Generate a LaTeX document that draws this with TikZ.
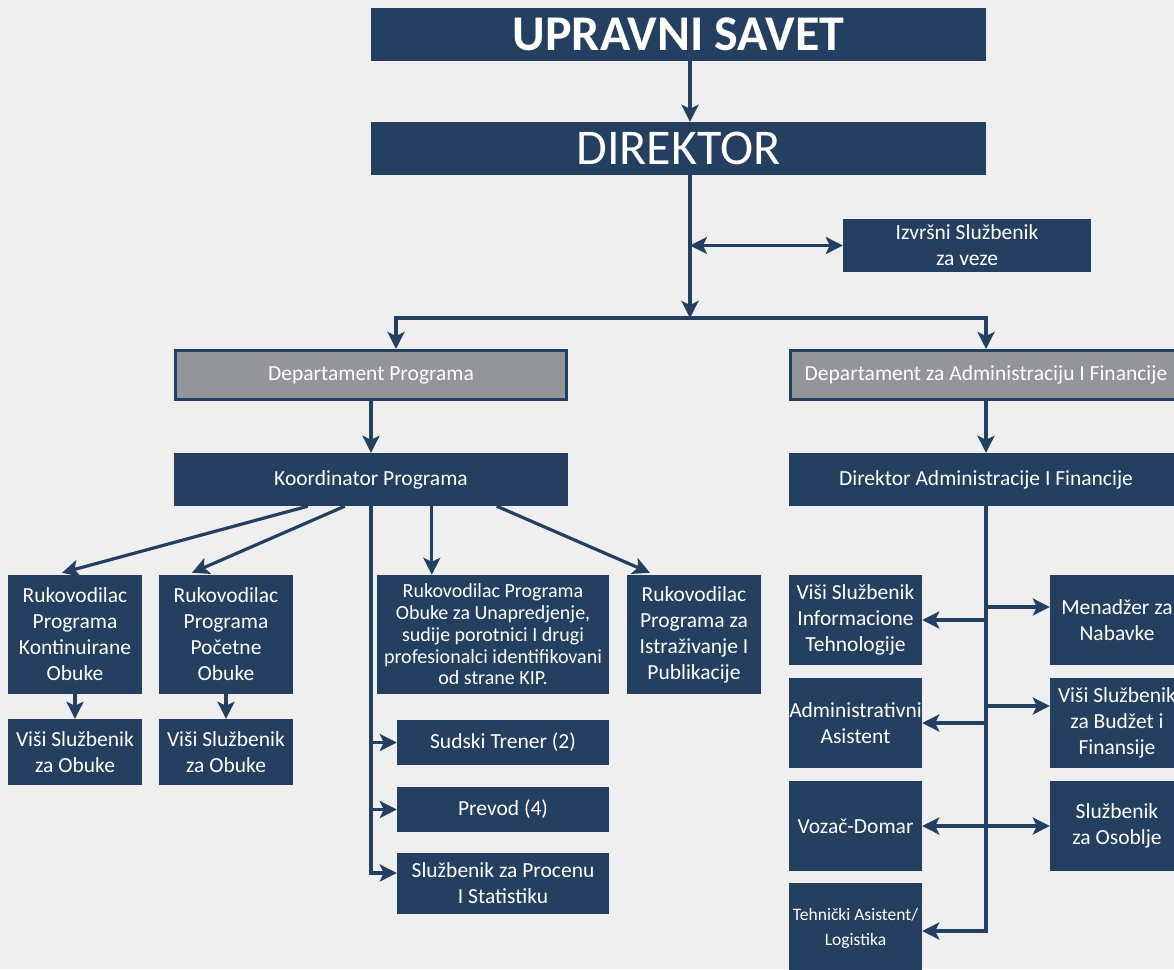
\documentclass[tikz,border=0pt]{standalone}
\usepackage{fontspec}
\setmainfont{Carlito}
\usetikzlibrary{arrows.meta,calc}
\definecolor{navy}{HTML}{243F60}
\definecolor{gfill}{HTML}{939598}
\definecolor{bgc}{HTML}{EFEFEF}
\begin{document}
\begin{tikzpicture}[x=1pt,y=-1pt,
  box/.style={fill=navy, text=white, inner sep=0pt, align=center, font=\fontsize{21.5}{26}\selectfont},
  gbox/.style={box, fill=gfill, draw=navy, line width=3pt},
  tip/.tip={Stealth[length=17pt,width=17pt,inset=4pt]},
  arr/.style={draw=navy, line width=3.2pt, line join=miter, -tip},
  arrb/.style={draw=navy, line width=3.2pt, tip-tip},
  title/.style={box, minimum width=615pt, minimum height=53pt}
]
\fill[bgc] (0,0) rectangle (1174,969);
\useasboundingbox (0,0) rectangle (1174,969);

% top
\node[title, font=\bfseries\fontsize{50}{60}\selectfont] (up) at (678.5,34.5) {UPRAVNI SAVET};
\node[title, font=\fontsize{50}{60}\selectfont] (dir) at (678.5,148.5) {DIREKTOR};
\node[box, minimum width=248pt, minimum height=53pt] (izv) at (967,245.5) {Izvršni Službenik\\za veze};

% departments
\node[gbox, minimum width=391pt, minimum height=49pt] (dp) at (371,375) {Departament Programa};
\node[gbox, minimum width=391pt, minimum height=49pt] (da) at (986,375) {Departament za Administraciju I Financije};
\node[box, minimum width=394pt, minimum height=53pt] (ko) at (371,479.5) {Koordinator Programa};
\node[box, minimum width=394pt, minimum height=53pt] (dadm) at (986,479.5) {Direktor Administracije I Financije};

% program side
\node[box, minimum width=134pt, minimum height=119pt] (ra) at (75,634.5) {Rukovodilac\\Programa\\Kontinuirane\\Obuke};
\node[box, minimum width=134pt, minimum height=119pt] (rb) at (226,634.5) {Rukovodilac\\Programa\\Početne\\Obuke};
\node[box, minimum width=232pt, minimum height=119pt, font=\fontsize{20}{21.7}\selectfont] (rc) at (493,634.5) {Rukovodilac Programa\\Obuke za Unapredjenje,\\sudije porotnici I drugi\\profesionalci identifikovani\\od strane KIP.};
\node[box, minimum width=134pt, minimum height=119pt] (rd) at (694,634.5) {Rukovodilac\\Programa za\\Istraživanje I\\Publikacije};
\node[box, minimum width=134pt, minimum height=66pt] (va) at (75,752) {Viši Službenik\\za Obuke};
\node[box, minimum width=134pt, minimum height=66pt] (vb) at (226,752) {Viši Službenik\\za Obuke};
\node[box, minimum width=212pt, minimum height=45pt] (st) at (503,742.5) {Sudski Trener (2)};
\node[box, minimum width=212pt, minimum height=45pt] (pr) at (503,809.5) {Prevod (4)};
\node[box, minimum width=212pt, minimum height=61pt] (sp) at (503,883.5) {Službenik za Procenu\\I Statistiku};

% admin side
\node[box, minimum width=133pt, minimum height=90pt] (it) at (855.5,620) {Viši Službenik\\Informacione\\Tehnologije};
\node[box, minimum width=133pt, minimum height=90pt] (aa) at (855.5,723) {Administrativni\\Asistent};
\node[box, minimum width=133pt, minimum height=90pt] (vd) at (855.5,826) {Vozač-Domar};
\node[box, minimum width=133pt, minimum height=90pt, font=\fontsize{17.5}{25}\selectfont] (ta) at (855.5,928) {Tehnički Asistent/\\Logistika};
\node[box, minimum width=134pt, minimum height=90pt] (mn) at (1117,620) {Menadžer za\\Nabavke};
\node[box, minimum width=134pt, minimum height=90pt] (vbf) at (1117,723) {Viši Službenik\\za Budžet i\\Finansije};
\node[box, minimum width=134pt, minimum height=90pt] (so) at (1117,826) {Službenik\\za Osoblje};

% helper coordinates
\coordinate (cx) at (690,0);
\coordinate (jm) at (690,318);
\coordinate (jl) at (396,318);
\coordinate (jr) at (986,318);

% top connectors
\draw[arr] (up.south -| cx) -- (dir.north -| cx);
\draw[arr] (dir.south -| cx) -- (jm);
\draw[arrb] (cx |- izv.west) -- (izv.west);
\draw[arr] (jm) -- (jl) -- (dp.north -| jl);
\draw[arr] (jm) -- (jr) -- (da.north);
\draw[arr] (dp.south) -- (ko.north);
\draw[arr] (da.south) -- (dadm.north);

% koordinator connectors
\coordinate (ka) at ($(ko.south west)+(134,0)$);
\coordinate (kb) at ($(ko.south west)+(171,0)$);
\coordinate (kc) at ($(ko.south west)+(258,0)$);
\coordinate (kd) at ($(ko.south west)+(323,0)$);
\coordinate (ta1) at ($(ra.north)+(-13,-2)$);
\coordinate (tb1) at ($(rb.north)+(-34,-2)$);
\coordinate (td1) at ($(rd.north)+(-44,-2)$);
\draw[arr] (ka) -- (ta1);
\draw[arr] (kb) -- (tb1);
\draw[arr] (kc) -- (kc |- rc.north);
\draw[arr] (kd) -- (td1);
\draw[arr] (ra.south) -- (va.north);
\draw[arr] (rb.south) -- (vb.north);
\coordinate (spin) at ($(sp.west)+(0,-10.5)$);
\draw[arr] (ko.south) -- (ko.south |- spin) -- (spin);
\draw[arr] (ko.south |- st.west) -- (st.west);
\draw[arr] (ko.south |- pr.west) -- (pr.west);

% admin connectors
\coordinate (mnin) at ($(mn.west)+(0,-13)$);
\coordinate (vbin) at ($(vbf.west)+(0,-17)$);
\coordinate (tain) at ($(ta.east)+(0,3)$);
\draw[arr] (dadm.south) -- (dadm.south |- tain) -- (tain);
\draw[arr] (dadm.south |- it.east) -- (it.east);
\draw[arr] (dadm.south |- mnin) -- (mnin);
\draw[arr] (dadm.south |- aa.east) -- (aa.east);
\draw[arr] (dadm.south |- vbin) -- (vbin);
\draw[arrb] (vd.east) -- (so.west);
\end{tikzpicture}
\end{document}
